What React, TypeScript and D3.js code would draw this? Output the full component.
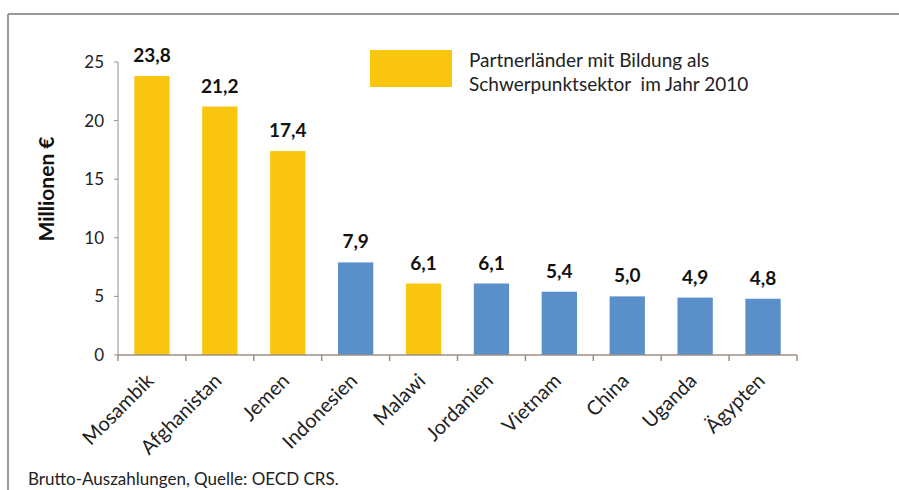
import React from "react";
import * as d3 from "d3";

const categories = ["Mosambik", "Afghanistan", "Jemen", "Indonesien", "Malawi", "Jordanien", "Vietnam", "China", "Uganda", "Ägypten"];
const values = [23.8, 21.2, 17.4, 7.9, 6.1, 6.1, 5.4, 5.0, 4.9, 4.8];
const focus = [true, true, true, false, true, false, false, false, false, false];
const yTicks = [0, 5, 10, 15, 20, 25];
const legendLines = ["Partnerländer mit Bildung als", "Schwerpunktsektor  im Jahr 2010"];
const yTitle = "Millionen €";
const footer = "Brutto-Auszahlungen, Quelle: OECD CRS.";

const W = 899, H = 490;
const FONT = "Lato, 'Open Sans', sans-serif";
const YELLOW = "#FAC50E";
const BLUE = "#5A8FC9";
const AXIS = "#9a8f86";

export default function App() {
  const x = d3.scaleBand<string>().domain(categories).range([118, 797]).paddingInner(0.48).paddingOuter(0.24);
  const y = d3.scaleLinear().domain([0, 25]).range([355, 62]);
  const step = x.step();
  const fmt = (v: number) => v.toFixed(1).replace(".", ",");
  return (
    <svg width={W} height={H} style={{ position: "absolute", left: 0, top: 0, background: "#fff" }}>
      <rect x={0} y={0} width={W} height={H} fill="#fff" />
      <line x1={8} x2={W} y1={14} y2={14} stroke="#777" strokeWidth={1.5} />
      <line x1={8} x2={8} y1={14} y2={H} stroke="#777" strokeWidth={1.5} />
      {/* y axis */}
      <line x1={118} x2={118} y1={y(25)} y2={y(0)} stroke={AXIS} strokeWidth={1} />
      {yTicks.map(t => (
        <g key={t}>
          <line x1={114} x2={118} y1={y(t)} y2={y(t)} stroke={AXIS} />
          <text x={104} y={y(t)} dy="0.35em" textAnchor="end" fontFamily={FONT} fontSize={17} fill="#222">{t}</text>
        </g>
      ))}
      <text transform={`translate(54,${189}) rotate(-90)`} textAnchor="middle" fontFamily={FONT} fontWeight="bold" fontSize={21} fill="#111">{yTitle}</text>
      {/* bars */}
      {categories.map((c, i) => (
        <g key={c}>
          <rect x={x(c)} y={y(values[i])} width={x.bandwidth()} height={y(0) - y(values[i])} fill={focus[i] ? YELLOW : BLUE} />
          <text x={(x(c) as number) + x.bandwidth() / 2} y={y(values[i]) - 14} textAnchor="middle" fontFamily={FONT} fontWeight="bold" fontSize={19} fill="#111">{fmt(values[i])}</text>
        </g>
      ))}
      {/* x axis */}
      <line x1={118} x2={797} y1={y(0)} y2={y(0)} stroke={AXIS} strokeWidth={1.5} />
      {d3.range(categories.length + 1).map(i => (
        <line key={i} x1={118 + i * step} x2={118 + i * step} y1={y(0)} y2={y(0) + 6} stroke={AXIS} strokeWidth={1.5} />
      ))}
      {categories.map(c => {
        const cx = (x(c) as number) + x.bandwidth() / 2 + 3;
        return (
          <text key={c} transform={`translate(${cx},${y(0) + 27}) rotate(-45)`} textAnchor="end" fontFamily={FONT} fontSize={20} fill="#222">{c}</text>
        );
      })}
      {/* legend */}
      <rect x={370} y={50} width={82} height={37} fill={YELLOW} />
      {legendLines.map((l, i) => (
        <text key={i} x={469} y={67 + i * 24} fontFamily={FONT} fontSize={19} fill="#222" style={{ whiteSpace: "pre" }}>{l}</text>
      ))}
      <text x={28} y={485} fontFamily={FONT} fontSize={17} fill="#222">{footer}</text>
    </svg>
  );
}
